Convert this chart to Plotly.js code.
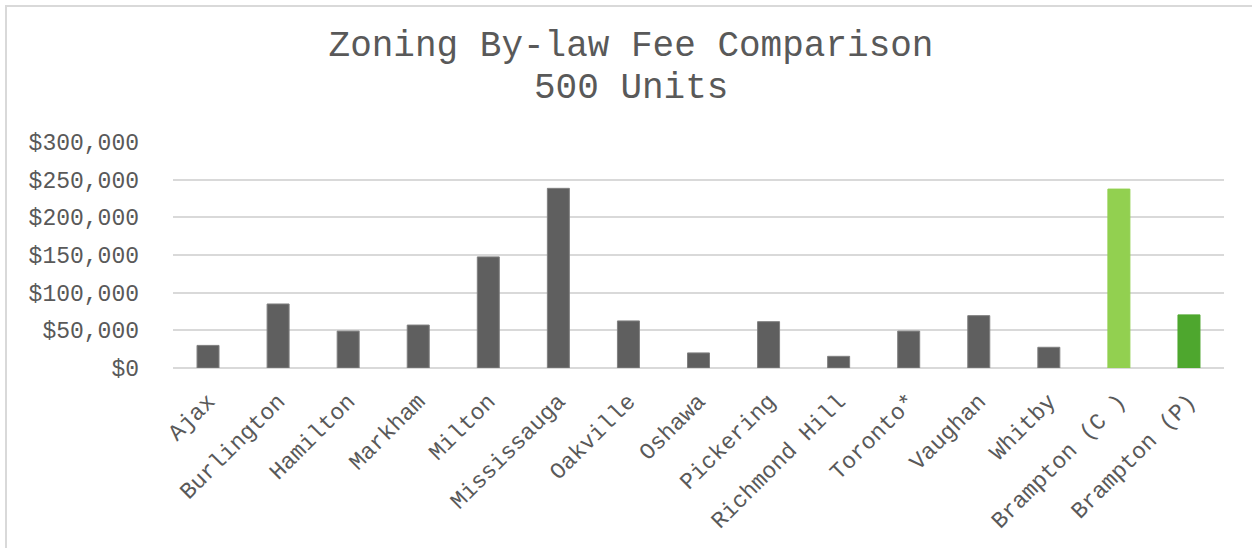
<!DOCTYPE html>
<html>
<head>
<meta charset="utf-8">
<script src="https://cdn.plot.ly/plotly-3.0.1.min.js"></script>
<style>
html,body{margin:0;padding:0;background:#fff;overflow:hidden;}
#chart{position:absolute;left:0;top:0;width:1252px;height:548px;}
#frame{position:absolute;left:5px;top:5px;width:1400px;height:700px;border-left:2px solid #d9d9d9;border-top:2px solid #d9d9d9;pointer-events:none;}
</style>
</head>
<body>
<div id="chart"></div>
<div id="frame"></div>
<script>
var categories = ["Ajax","Burlington","Hamilton","Markham","Milton","Mississauga","Oakville","Oshawa","Pickering","Richmond Hill","Toronto*","Vaughan","Whitby","Brampton (C )","Brampton (P)"];
var fees = [30000, 85000, 49000, 57000, 147500, 238500, 62500, 20000, 61500, 15500, 49000, 69500, 27500, 237500, 70500];
var barColors = ["#5f5f5f","#5f5f5f","#5f5f5f","#5f5f5f","#5f5f5f","#5f5f5f","#5f5f5f","#5f5f5f","#5f5f5f","#5f5f5f","#5f5f5f","#5f5f5f","#5f5f5f","#92d050","#4ea72e"];
var edgeColors = ["#808080","#808080","#808080","#808080","#808080","#808080","#808080","#808080","#808080","#808080","#808080","#808080","#808080","#92d050","#4ea72e"];
var titleLine1 = "Zoning By-law Fee Comparison";
var titleLine2 = "500 Units";

var font = "Liberation Mono, Courier New, monospace";
var textColor = "#595959";

var trace = {
  type: "bar",
  x: categories,
  y: fees,
  marker: {color: barColors, line: {color: edgeColors, width: 1}},
  hoverinfo: "x+y"
};

var W = 1252, H = 548, ML = 173, MR = 28, MT = 142, MB = 180;
var plotW = W - ML - MR, plotH = H - MT - MB;
var centerX = 631;

var layout = {
  width: W,
  height: H,
  paper_bgcolor: "#ffffff",
  plot_bgcolor: "#ffffff",
  margin: {l: ML, r: MR, t: MT, b: MB},
  showlegend: false,
  bargap: 0.686,
  title: {
    text: titleLine1,
    x: centerX / W, xref: "container", xanchor: "center",
    y: 1 - 43 / H, yref: "container", yanchor: "middle",
    font: {family: font, size: 36, color: textColor}
  },
  annotations: [{
    text: titleLine2,
    xref: "paper", yref: "paper",
    x: (centerX - ML) / plotW,
    y: (H - MB - 88) / plotH,
    xanchor: "center", yanchor: "middle",
    showarrow: false,
    font: {family: font, size: 36, color: textColor}
  }],
  xaxis: {
    type: "category",
    tickangle: -45,
    tickfont: {family: font, size: 23, color: textColor},
    showgrid: false,
    showline: false,
    ticks: "",
    zeroline: false,
    ticklabelstandoff: 14
  },
  yaxis: {
    range: [0, 300000],
    dtick: 50000,
    tick0: 0,
    tickprefix: "$",
    tickformat: ",d",
    tickfont: {family: font, size: 23, color: textColor},
    showgrid: true,
    gridcolor: "#d9d9d9",
    gridwidth: 1.5,
    zeroline: true,
    zerolinecolor: "#d9d9d9",
    zerolinewidth: 1.5,
    showline: false,
    ticks: "",
    ticklabelstandoff: 33
  }
};

Plotly.newPlot("chart", [trace], layout, {displayModeBar: false, responsive: false});
</script>
</body>
</html>
